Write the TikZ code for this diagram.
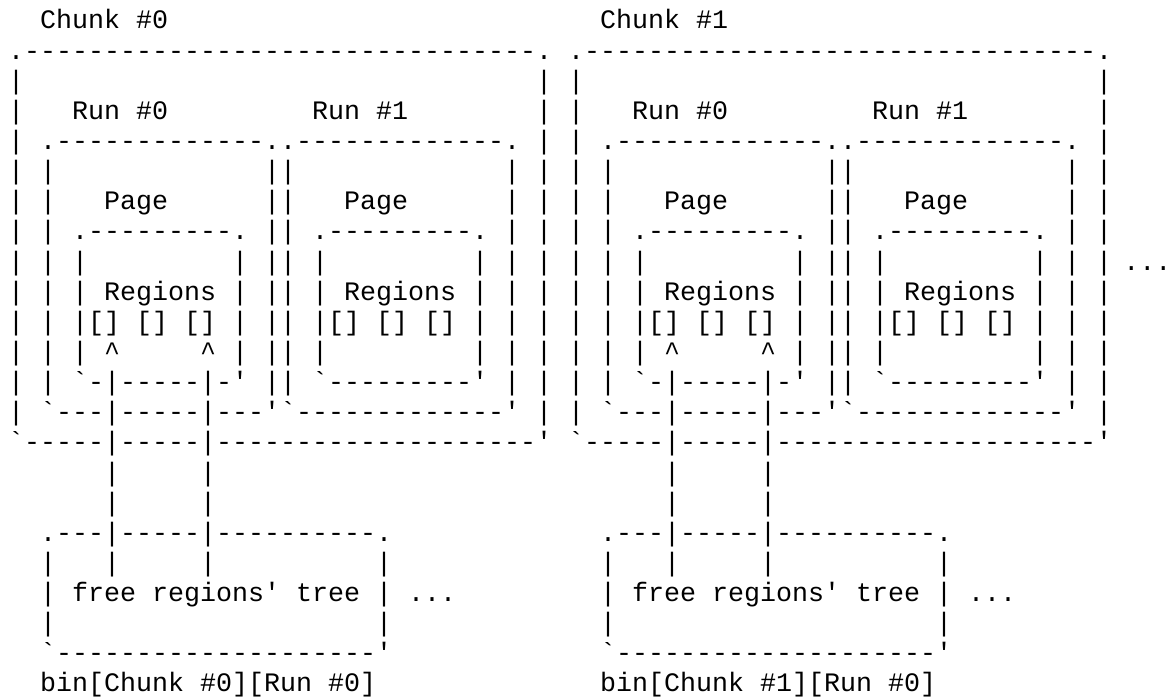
\documentclass[tikz,border=0pt]{standalone}
\usepackage{fontspec}
\setmonofont{Liberation Mono}

% rows of one chunk, spaces kept as typed
\begingroup\obeyspaces%
\gdef\asciititle#1{Chunk \##1}%
\gdef\asciitop{.--------------------------------.}%
\gdef\asciiside{|                                |}%
\gdef\asciiruns{|   Run \#0         Run \#1        |}%
\gdef\asciiruntop{| .-------------..-------------. |}%
\gdef\asciirunside{| |             ||             | |}%
\gdef\asciipage{| |   Page      ||   Page      | |}%
\gdef\asciipagetop{| | .---------. || .---------. | |}%
\gdef\asciipageside{| | |         | || |         | | |}%
\gdef\asciiregions{| | | Regions | || | Regions | | |}%
\gdef\asciislots{| | |[] [] [] | || |[] [] [] | | |}%
\gdef\asciiarrows{| | | \textasciicircum     \textasciicircum | || |         | | |}%
\gdef\asciipagebottom{| | `-|-----|-' || `---------' | |}%
\gdef\asciirunbottom{| `---|-----|---'`-------------' |}%
\gdef\asciibottom{`-----|-----|--------------------'}%
\gdef\asciilinks{|     |}%
\gdef\asciitreetop{.---|-----|----------.}%
\gdef\asciitreelinks{|   |     |          |}%
\gdef\asciitree{| free regions' tree | ...}%
\gdef\asciitreeside{|                    |}%
\gdef\asciitreebottom{`--------------------'}%
\gdef\asciibin#1{bin[Chunk \##1][Run \#0]}%
\endgroup

\tikzset{
  ascii/.style={anchor=base west, inner sep=0pt,
    font=\ttfamily\fontsize{26.66pt}{30.14pt}\selectfont},
}

\begin{document}
\begin{tikzpicture}[x=16pt, y={(0pt,-30.136pt)}]
\useasboundingbox (-0.5,-0.9623) rectangle (72.8125,22.166);
\foreach \k in {0,1} {
  \node[ascii] (c\k-title) at (35*\k+2,0) {\asciititle{\k}};
  \node[ascii] (c\k-top) at (35*\k,1) {\asciitop};
  \node[ascii] (c\k-side) at (35*\k,2) {\asciiside};
  \node[ascii] (c\k-runs) at (35*\k,3) {\asciiruns};
  \node[ascii] (c\k-runtop) at (35*\k,4) {\asciiruntop};
  \node[ascii] (c\k-runside) at (35*\k,5) {\asciirunside};
  \node[ascii] (c\k-page) at (35*\k,6) {\asciipage};
  \node[ascii] (c\k-pagetop) at (35*\k,7) {\asciipagetop};
  \node[ascii] (c\k-pageside) at (35*\k,8) {\asciipageside};
  \node[ascii] (c\k-regions) at (35*\k,9) {\asciiregions};
  \node[ascii] (c\k-slots) at (35*\k,10) {\asciislots};
  \node[ascii] (c\k-arrows) at (35*\k,11) {\asciiarrows};
  \node[ascii] (c\k-pagebottom) at (35*\k,12) {\asciipagebottom};
  \node[ascii] (c\k-runbottom) at (35*\k,13) {\asciirunbottom};
  \node[ascii] (c\k-bottom) at (35*\k,14) {\asciibottom};
  \node[ascii] (c\k-linksa) at (35*\k+6,15) {\asciilinks};
  \node[ascii] (c\k-linksb) at (35*\k+6,16) {\asciilinks};
  \node[ascii] (c\k-treetop) at (35*\k+2,17) {\asciitreetop};
  \node[ascii] (c\k-treelinks) at (35*\k+2,18) {\asciitreelinks};
  \node[ascii] (c\k-tree) at (35*\k+2,19) {\asciitree};
  \node[ascii] (c\k-treeside) at (35*\k+2,20) {\asciitreeside};
  \node[ascii] (c\k-treebottom) at (35*\k+2,21) {\asciitreebottom};
  \node[ascii] (c\k-bin) at (35*\k+2,22) {\asciibin{\k}};
}
\node[ascii] (more) at (69.7,8) {...};
\end{tikzpicture}
\end{document}
